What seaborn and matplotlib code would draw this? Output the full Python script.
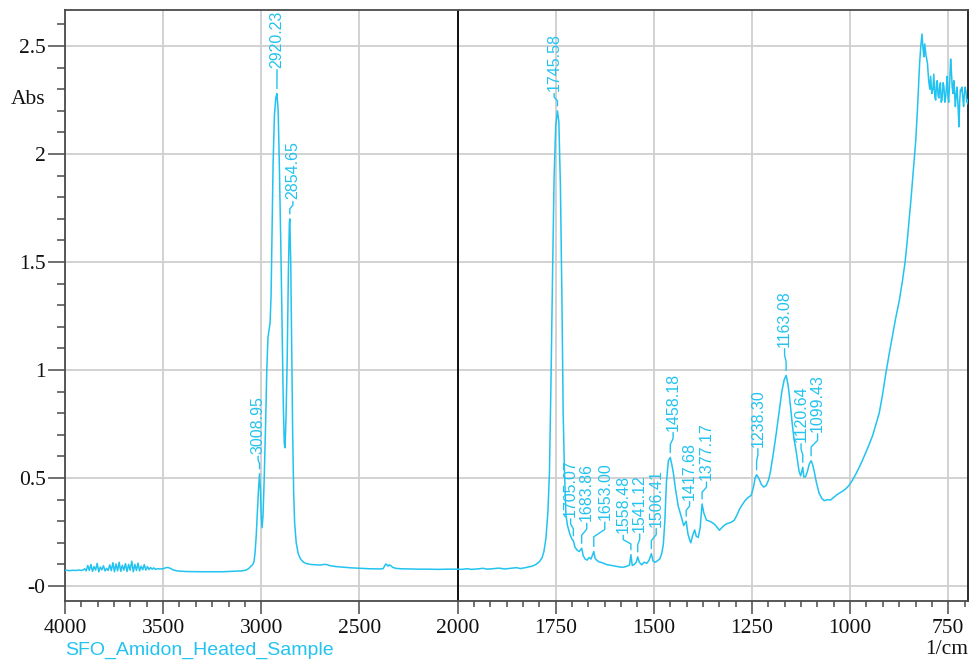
import numpy as np
import pandas as pd
import matplotlib
matplotlib.use("Agg")
import matplotlib.pyplot as plt
import seaborn as sns
from matplotlib.ticker import FixedLocator, FuncFormatter
from matplotlib import font_manager

# ---------------------------------------------------------------- spectrum
wavenumber = [
    4000, 3990, 3975, 3960, 3945, 3930, 3915, 3905,
    3900, 3892, 3884, 3876, 3868, 3860, 3852, 3844, 3836, 3828, 3820, 3812,
    3804, 3796, 3788, 3780, 3772, 3764, 3756, 3748, 3740, 3732, 3724, 3716,
    3708, 3700, 3692, 3684, 3676, 3668, 3660, 3652, 3644, 3636, 3628, 3620,
    3612, 3604, 3596, 3588, 3580, 3572, 3564, 3556, 3548, 3540,
    3530, 3515, 3500, 3485, 3475, 3462, 3450, 3435, 3420, 3380, 3300, 3200,
    3150, 3100, 3080, 3065, 3055, 3045, 3038, 3032, 3026, 3020, 3014, 3008.95,
    3004, 3000, 2996, 2991, 2985, 2978, 2972, 2966, 2960, 2955, 2950, 2945,
    2940, 2933, 2926, 2920.23, 2914, 2908, 2900, 2893, 2888, 2883, 2879, 2874,
    2868, 2862, 2857, 2854.65, 2850, 2845, 2840, 2835, 2830, 2822, 2812, 2800,
    2785, 2770, 2750, 2720, 2700, 2680, 2665, 2650, 2620, 2580, 2540, 2500,
    2450, 2400, 2380, 2372, 2366, 2360, 2354, 2348, 2340, 2330, 2315, 2290,
    2250, 2200, 2150, 2100, 2050, 2000,
    1990, 1975, 1965, 1950, 1935, 1925, 1910, 1895, 1880, 1865, 1850, 1840,
    1830, 1820, 1810, 1800, 1792, 1785, 1780, 1775, 1770, 1766, 1762, 1758,
    1754, 1750, 1745.58, 1742, 1738, 1734, 1731, 1728, 1724, 1720, 1714, 1708,
    1705.07, 1701, 1695, 1690, 1683.86, 1680, 1675, 1670, 1665, 1660, 1653.00,
    1650, 1646, 1640, 1632, 1625, 1618, 1612, 1605, 1598, 1590, 1582, 1575,
    1568, 1562, 1558.48, 1555, 1550, 1545, 1541.12, 1537, 1531, 1525, 1518,
    1512, 1506.41, 1502, 1496, 1490, 1485, 1480, 1476, 1472, 1468, 1463,
    1458.18, 1454, 1450, 1445, 1438, 1430, 1424, 1417.68, 1413, 1409, 1406,
    1401, 1396, 1392, 1387, 1382, 1377.17, 1373, 1366, 1358, 1350, 1345, 1338,
    1333, 1326, 1320, 1312, 1303, 1295, 1288, 1282, 1277, 1268, 1260, 1252,
    1246, 1242, 1238.30, 1233, 1226, 1220, 1214, 1208, 1203, 1196, 1188, 1180,
    1174, 1168, 1163.08, 1158, 1153, 1148, 1143, 1138, 1134, 1130, 1126,
    1120.64, 1118, 1114, 1109, 1104, 1099.43, 1096, 1092, 1086, 1079, 1072,
    1066, 1058, 1050, 1042, 1032, 1020, 1011, 1002, 994, 985, 976, 968, 955,
    943, 935, 926, 918, 909, 900, 892, 884, 875, 867, 860, 855, 850, 845, 841,
    837, 833, 829, 826, 823, 820, 817, 814, 812, 810, 807, 803, 800, 797, 795,
    792, 789, 787, 784, 782, 780, 778, 776, 774, 772, 770, 768, 766, 763, 761,
    759, 757, 755, 753, 751, 749, 746, 744, 742, 740, 738, 736, 734, 732, 730,
    728, 726, 724, 723, 721, 719, 717, 715, 713, 711, 709, 707, 705, 703, 701,
    699,
]
absorbance = [
    0.072, 0.073, 0.071, 0.073, 0.072, 0.074, 0.072, 0.076,
    0.080, 0.070, 0.095, 0.072, 0.100, 0.068, 0.090, 0.074, 0.105, 0.066, 0.088, 0.075,
    0.094, 0.070, 0.082, 0.072, 0.098, 0.071, 0.108, 0.066, 0.102, 0.070, 0.110, 0.068,
    0.096, 0.074, 0.104, 0.067, 0.100, 0.073, 0.115, 0.066, 0.100, 0.072, 0.106, 0.070,
    0.092, 0.075, 0.099, 0.074, 0.090, 0.076, 0.086, 0.078, 0.084, 0.077,
    0.080, 0.079, 0.080, 0.085, 0.086, 0.081, 0.075, 0.071, 0.069, 0.067, 0.066, 0.066,
    0.068, 0.070, 0.073, 0.080, 0.090, 0.098, 0.110, 0.150, 0.230, 0.340, 0.450, 0.520,
    0.440, 0.320, 0.270, 0.330, 0.500, 0.750, 1.000, 1.150, 1.190, 1.220, 1.350, 1.650,
    1.950, 2.180, 2.260, 2.280, 2.200, 1.950, 1.550, 1.150, 0.850, 0.660, 0.640, 0.780,
    1.050, 1.450, 1.680, 1.700, 1.500, 1.100, 0.700, 0.430, 0.290, 0.200, 0.150, 0.125,
    0.110, 0.104, 0.100, 0.098, 0.097, 0.100, 0.099, 0.094, 0.090, 0.087, 0.084, 0.082,
    0.080, 0.079, 0.080, 0.092, 0.102, 0.098, 0.092, 0.098, 0.094, 0.086, 0.082, 0.080,
    0.079, 0.078, 0.078, 0.077, 0.078, 0.078,
    0.077, 0.080, 0.077, 0.079, 0.082, 0.078, 0.080, 0.083, 0.079, 0.082, 0.085, 0.081,
    0.084, 0.088, 0.092, 0.100, 0.112, 0.130, 0.160, 0.220, 0.340, 0.520, 0.950, 1.450,
    1.900, 2.130, 2.200, 2.150, 1.850, 1.300, 0.800, 0.550, 0.330, 0.280, 0.240, 0.215,
    0.210, 0.180, 0.165, 0.160, 0.175, 0.140, 0.125, 0.120, 0.132, 0.125, 0.160,
    0.130, 0.120, 0.112, 0.108, 0.103, 0.098, 0.097, 0.094, 0.092, 0.089, 0.087, 0.088,
    0.092, 0.097, 0.145, 0.095, 0.100, 0.110, 0.135, 0.110, 0.098, 0.110, 0.105,
    0.120, 0.150, 0.115, 0.110, 0.118, 0.125, 0.150, 0.190, 0.300, 0.480, 0.580,
    0.595, 0.560, 0.520, 0.450, 0.370, 0.320, 0.280, 0.300, 0.240, 0.215, 0.200,
    0.235, 0.260, 0.230, 0.225, 0.270, 0.380, 0.340, 0.305, 0.300, 0.292, 0.285, 0.270,
    0.258, 0.272, 0.282, 0.290, 0.295, 0.305, 0.330, 0.355, 0.370, 0.395, 0.410, 0.420,
    0.460, 0.500, 0.515, 0.500, 0.470, 0.458, 0.465, 0.490, 0.530, 0.610, 0.710, 0.820,
    0.900, 0.955, 0.975, 0.930, 0.850, 0.760, 0.680, 0.630, 0.580, 0.530, 0.510,
    0.550, 0.505, 0.505, 0.530, 0.565, 0.580, 0.565, 0.535, 0.480, 0.430, 0.405,
    0.395, 0.400, 0.398, 0.410, 0.425, 0.438, 0.450, 0.468, 0.490, 0.520, 0.553, 0.585, 0.640,
    0.695, 0.745, 0.800, 0.880, 0.985, 1.080, 1.160, 1.240, 1.320, 1.410, 1.500, 1.590, 1.690, 1.790, 1.880,
    1.970, 2.060, 2.190, 2.310, 2.420, 2.500, 2.556, 2.480, 2.450, 2.510, 2.460, 2.420, 2.340, 2.300, 2.360,
    2.280, 2.300, 2.370, 2.260, 2.250, 2.330, 2.340, 2.270, 2.260, 2.310, 2.330, 2.240, 2.250, 2.330, 2.310,
    2.240, 2.260, 2.300, 2.360, 2.270, 2.240, 2.350, 2.440, 2.380, 2.310, 2.280, 2.340, 2.290, 2.220, 2.270,
    2.310, 2.250, 2.180, 2.126, 2.240, 2.300, 2.290, 2.310, 2.260, 2.220, 2.280, 2.310, 2.290, 2.240, 2.250,
    2.230,
]

# ---------------------------------------------------------------- peak picks
peak_wn = [3008.95, 2920.23, 2854.65, 1745.58, 1705.07, 1683.86, 1653.00,
           1558.48, 1541.12, 1506.41, 1458.18, 1417.68, 1377.17, 1238.30,
           1163.08, 1120.64, 1099.43]
# centre of each rotated label and the absorbance at its lower end
label_wn = [3016, 2920, 2839, 1754, 1712, 1671, 1625,
            1578, 1536, 1494, 1451, 1409, 1366, 1235,
            1167, 1125, 1083]
label_base = [0.61, 2.40, 1.79, 2.29, 0.32, 0.30, 0.305,
              0.244, 0.25, 0.275, 0.72, 0.40, 0.49, 0.645,
              1.108, 0.668, 0.714]

major_x = [4000, 3500, 3000, 2500, 2000, 1750, 1500, 1250, 1000, 750]
major_y = [0, 0.5, 1, 1.5, 2, 2.5]

sample_name = "SFO_Amidon_Heated_Sample"
x_unit = "1/cm"
y_unit = "Abs"

CYAN = "#22c3f0"
GRID = "#cfcfcf"
AXC = "#4a4a4a"

sns.set_theme(style="white")


def has_font(name):
    return any(f.name == name for f in font_manager.fontManager.ttflist)


SERIF = "Liberation Serif" if has_font("Liberation Serif") else "DejaVu Serif"
NARROW = "Liberation Sans Narrow" if has_font("Liberation Sans Narrow") else "Liberation Sans"
SANS = "Liberation Sans"

df = pd.DataFrame({"wn": wavenumber, "abs": absorbance})

W, H = 978, 664
fig = plt.figure(figsize=(W / 100, H / 100), dpi=100)
left, right, top, bottom = 65, 968.5, 10, 600.7
ax = fig.add_axes([left / W, 1 - bottom / H, (right - left) / W, (bottom - top) / H])


# the axis is compressed by a factor of two above 2000 1/cm
def fwd(x):
    x = np.asarray(x, dtype=float)
    return np.where(x > 2000, 2000 + (x - 2000) / 2.0, x)


def inv(u):
    u = np.asarray(u, dtype=float)
    return np.where(u > 2000, 2000 + (u - 2000) * 2.0, u)


ax.set_xscale("function", functions=(fwd, inv))
ax.set_xlim(4000, 698.5)
ax.set_ylim(-0.068, 2.667)

ax.grid(True, which="major", color=GRID, lw=1.3, zorder=0)
ax.axvline(2000, color="black", lw=1.3, zorder=2)

sns.lineplot(data=df, x="wn", y="abs", sort=False, estimator=None,
             color=CYAN, lw=1.1, ax=ax, zorder=3)
ax.set_xlabel("")
ax.set_ylabel("")

# ticks
minor_left = 4000 - np.arange(0, 13) * 500 / 6
minor_right = 2000 - np.arange(0, 32) * 250 / 6
ax.xaxis.set_major_locator(FixedLocator(major_x))
ax.xaxis.set_minor_locator(FixedLocator(np.concatenate([minor_left, minor_right])))
ax.xaxis.set_major_formatter(FuncFormatter(lambda v, p: f"{v:.0f}"))
ax.yaxis.set_major_locator(FixedLocator(major_y))
ax.yaxis.set_minor_locator(FixedLocator(np.round(np.arange(0, 2.65, 0.1), 2)))
ax.yaxis.set_major_formatter(FuncFormatter(lambda v, p: "-0" if v == 0 else f"{v:g}"))

ax.tick_params(axis="both", which="both", direction="out", color=AXC, width=1.1,
               labelsize=15.5, labelcolor="#111111", labelfontfamily=SERIF,
               bottom=True, left=True, top=False, right=False)
ax.tick_params(axis="y", which="major", length=12, pad=2)
ax.tick_params(axis="y", which="minor", length=6)
ax.tick_params(axis="x", which="major", length=9, pad=4)
ax.tick_params(axis="x", which="minor", length=4)

for name, sp in ax.spines.items():
    sp.set_visible(True)
    sp.set_color(AXC)
    sp.set_linewidth(1.3)
ax.spines["right"].set_color("#1a1a1a")

# peak labels with their leaders
trans = ax.transData
for wn, lx, lb in zip(peak_wn, label_wn, label_base):
    pk = float(np.interp(wn, wavenumber[::-1], absorbance[::-1]))
    ax.text(lx, lb, f"{wn:.2f}", rotation=90, ha="center", va="bottom",
            color=CYAN, fontsize=11.5, family=NARROW, zorder=4)
    x0, y0 = trans.transform((lx, lb))
    x1, y1 = trans.transform((wn, pk))
    ya = y0 - 2
    yb = y1 + 5
    span = max(ya - yb, 4)
    xs = [x0, x0, x1, x1]
    ys = [ya, ya - 0.3 * span, ya - 0.6 * span, yb]
    ax.plot(xs, ys, color=CYAN, lw=1.0, transform=None, zorder=4, clip_on=False)

fig.text(28 / W, 1 - 100 / H, y_unit, ha="center", va="center",
         family=SERIF, fontsize=15.5, color="#111111")
fig.text(968 / W, 1 - 650 / H, x_unit, ha="right", va="center",
         family=SERIF, fontsize=15.5, color="#111111")
fig.text(65 / W, 1 - 650 / H, sample_name, ha="left", va="center",
         family=SANS, fontsize=14, color=CYAN)

fig.savefig("out.png", dpi=100)
